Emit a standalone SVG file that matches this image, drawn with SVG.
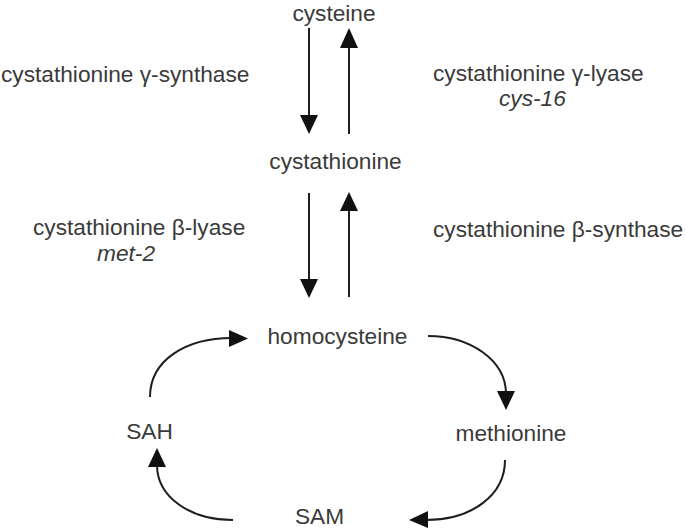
<svg xmlns="http://www.w3.org/2000/svg" width="685" height="529" viewBox="0 0 685 529">
<style>
text{font-family:"Liberation Sans",Arial,sans-serif;font-size:22.7px;fill:#3a3a3a}
.it{font-style:italic}
.ln{stroke:#1e1e1e;stroke-width:2;fill:none}
.hd{fill:#111}
</style>
<rect width="685" height="529" fill="#fff"/>
<g id="cysteine"><text x="334" y="21" text-anchor="middle">cysteine</text></g>
<g id="cystathionine"><text x="335.5" y="169" text-anchor="middle">cystathionine</text></g>
<g id="homocysteine"><text x="337.5" y="344" text-anchor="middle">homocysteine</text></g>
<g id="SAH"><text x="149.5" y="439" text-anchor="middle">SAH</text></g>
<g id="methionine"><text x="511" y="441" text-anchor="middle">methionine</text></g>
<g id="SAM"><text x="319.5" y="524" text-anchor="middle">SAM</text></g>
<g id="enzymes">
<text x="1" y="82">cystathionine γ-synthase</text>
<text x="433" y="81">cystathionine γ-lyase</text>
<text x="499" y="106" class="it">cys-16</text>
<text x="33" y="235">cystathionine β-lyase</text>
<text x="97" y="261" class="it">met-2</text>
<text x="433" y="237">cystathionine β-synthase</text>
</g>
<g id="connectors">
<line class="ln" x1="309" y1="28" x2="309" y2="118"/>
<polygon class="hd" points="300,115 318,115 309,134"/>
<line class="ln" x1="349" y1="134" x2="349" y2="44"/>
<polygon class="hd" points="340,48 358,48 349,28"/>
<line class="ln" x1="309" y1="193" x2="309" y2="282"/>
<polygon class="hd" points="300,279 318,279 309,298"/>
<line class="ln" x1="349" y1="297" x2="349" y2="208"/>
<polygon class="hd" points="340,211 358,211 349,192"/>
<path class="ln" d="M150,397 C150,360 186,338 232,338"/>
<polygon class="hd" points="229,330 229,347 248,338.5"/>
<path class="ln" d="M428,336 C470,336 506,360 506,394"/>
<polygon class="hd" points="497,391 515,391 506,410"/>
<path class="ln" d="M505,460 C505,495 472,520 426,520"/>
<polygon class="hd" points="428,511 428,528 409,520"/>
<path class="ln" d="M233,520 C190,520 157,497 157,465"/>
<polygon class="hd" points="148,467 166,467 157,448"/>
</g>
</svg>
